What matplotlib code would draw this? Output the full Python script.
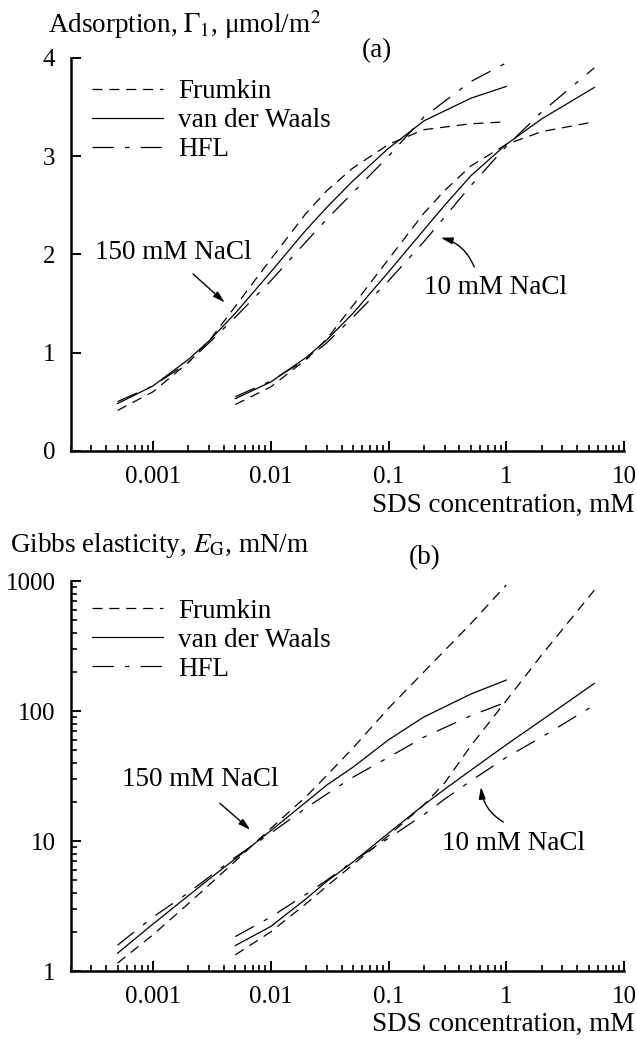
import numpy as np
import matplotlib
matplotlib.use('Agg')
import matplotlib.pyplot as plt
from matplotlib.ticker import LogLocator, NullFormatter, FixedLocator

plt.rcParams['font.family'] = ['Liberation Serif', 'DejaVu Serif']
plt.rcParams['mathtext.fontset'] = 'stix'

# SDS concentration, mM
c150 = [5e-4, 1e-3, 2e-3, 3e-3, 5e-3, 0.01, 0.02, 0.03, 0.05, 0.1, 0.2, 0.5, 1.0]
c10 = [5e-3, 0.01, 0.02, 0.03, 0.05, 0.1, 0.2, 0.3, 0.5, 1.0, 2.0, 5.6]

# (a) adsorption, umol/m2
gam_frum_150 = [0.41, 0.60, 0.90, 1.12, 1.47, 1.95, 2.42, 2.65, 2.88, 3.12, 3.27, 3.33, 3.35]
gam_vdw_150 = [0.48, 0.66, 0.93, 1.12, 1.40, 1.82, 2.25, 2.48, 2.75, 3.08, 3.36, 3.59, 3.71]
gam_hfl_150 = [0.50, 0.66, 0.90, 1.10, 1.36, 1.73, 2.13, 2.36, 2.63, 3.00, 3.40, 3.76, 3.95]
gam_frum_10 = [0.47, 0.65, 0.93, 1.14, 1.48, 1.95, 2.42, 2.65, 2.90, 3.12, 3.25, 3.35]
gam_vdw_10 = [0.53, 0.70, 0.95, 1.13, 1.40, 1.82, 2.25, 2.50, 2.80, 3.12, 3.38, 3.70]
gam_hfl_10 = [0.55, 0.71, 0.93, 1.10, 1.36, 1.73, 2.13, 2.38, 2.70, 3.10, 3.45, 3.90]

# (b) Gibbs elasticity, mN/m
eg_frum_150 = [1.15, 1.9, 3.3, 4.6, 7.0, 12.5, 22, 32, 52, 105, 200, 470, 930]
eg_vdw_150 = [1.37, 2.3, 3.8, 5.1, 7.3, 12, 20, 27, 37, 60, 90, 135, 173]
eg_hfl_150 = [1.58, 2.6, 4.0, 5.3, 7.5, 11.5, 18, 23, 31, 44, 63, 92, 117]
eg_frum_10 = [1.33, 2.0, 3.3, 4.5, 6.6, 11, 19, 28, 54, 120, 270, 850]
eg_vdw_10 = [1.57, 2.2, 3.6, 4.9, 6.9, 11.5, 19, 25, 35, 55, 85, 163]
eg_hfl_10 = [1.84, 2.6, 3.9, 5.0, 7.0, 10.5, 16, 21, 29, 44, 63, 111]

labels = ['Frumkin', 'van der Waals', 'HFL']
styles = [(0, (8, 5.5)), '-', (0, (17, 9, 3.5, 9))]
fs = 19.5
fs_tick = 18
W, H = 637, 1039

fig = plt.figure(figsize=(W / 100, H / 100), dpi=100)

def px_axes(x0, y0, x1, y1):
    return fig.add_axes([x0 / W, 1 - y1 / H, (x1 - x0) / W, (y1 - y0) / H])

ax1 = px_axes(70.7, 58, 624, 450.7)
ax2 = px_axes(70.7, 581, 624, 971)

def style_axis(ax):
    ax.set_xscale('log')
    ax.set_xlim(2e-4, 10)
    ax.xaxis.set_major_locator(FixedLocator([1e-3, 1e-2, 0.1, 1, 10]))
    ax.xaxis.set_minor_locator(LogLocator(base=10, subs=np.arange(2, 10)))
    ax.xaxis.set_minor_formatter(NullFormatter())
    ax.set_xticklabels(['0.001', '0.01', '0.1', '1', '10'])
    for s in ['top', 'right']:
        ax.spines[s].set_visible(False)
    for s in ['left', 'bottom']:
        ax.spines[s].set_linewidth(1.8)
    ax.tick_params(which='major', direction='in', length=7, width=1.4,
                   labelsize=fs_tick, pad=11)
    ax.tick_params(which='minor', direction='in', length=4.5, width=1.2)

def draw_curves(ax, ys150, ys10):
    for y150, y10, ls, lab in zip(ys150, ys10, styles, labels):
        ax.plot(c150, y150, color='black', lw=0.9, linestyle=ls, label=lab)
        ax.plot(c10, y10, color='black', lw=0.9, linestyle=ls)

def add_legend(ax, top_px):
    ax.legend(loc='upper left', bbox_to_anchor=(92 / W, 1 - top_px / H),
              bbox_transform=fig.transFigure, frameon=False, fontsize=fs,
              handlelength=2.63, handletextpad=0.55, labelspacing=0.15,
              borderpad=0, borderaxespad=0)

arrow = dict(arrowstyle='-|>,head_length=0.7,head_width=0.2', color='black',
             lw=1.0, shrinkA=0, shrinkB=0)

# panel (a)
draw_curves(ax1, [gam_frum_150, gam_vdw_150, gam_hfl_150],
            [gam_frum_10, gam_vdw_10, gam_hfl_10])
style_axis(ax1)
add_legend(ax1, 79)
ax1.set_ylim(0, 4)
ax1.set_yticks([0, 1, 2, 3, 4])
ax1.text(3.2e-4, 2.02, '150 mM NaCl', fontsize=fs, ha='left', va='center')
ax1.annotate('', xy=(4.07e-3, 1.51), xytext=(2.19e-3, 1.80), arrowprops=arrow)
ax1.text(0.81, 1.66, '10 mM NaCl', fontsize=fs, ha='center', va='center')
ax1.annotate('', xy=(0.278, 2.17), xytext=(0.535, 1.87),
             arrowprops=dict(arrow, connectionstyle='arc3,rad=0.25'))

# panel (b)
draw_curves(ax2, [eg_frum_150, eg_vdw_150, eg_hfl_150],
            [eg_frum_10, eg_vdw_10, eg_hfl_10])
style_axis(ax2)
add_legend(ax2, 598.5)
ax2.set_yscale('log')
ax2.set_ylim(1, 1000)
ax2.yaxis.set_major_locator(FixedLocator([1, 10, 100, 1000]))
ax2.yaxis.set_minor_locator(LogLocator(base=10, subs=np.arange(2, 10)))
ax2.yaxis.set_minor_formatter(NullFormatter())
ax2.set_yticklabels(['1', '10', '100', '1000'])
ax2.tick_params(which='major', direction='in', length=7, width=1.4,
                labelsize=fs_tick, pad=11)
ax2.tick_params(which='minor', direction='in', length=4.5, width=1.2)
ax2.text(2.5e-3, 29.5, '150 mM NaCl', fontsize=fs, ha='center', va='center')
ax2.annotate('', xy=(6.7e-3, 12.2), xytext=(3.7e-3, 19.5), arrowprops=arrow)
ax2.text(1.15, 9.65, '10 mM NaCl', fontsize=fs, ha='center', va='center')
ax2.annotate('', xy=(0.61, 26.1), xytext=(0.944, 14.0),
             arrowprops=dict(arrow, connectionstyle='arc3,rad=-0.25'))

# titles and axis captions
def ftext(x, y, s, **kw):
    fig.text(x / W, 1 - y / H, s, fontsize=fs, **kw)

ftext(48, 33, r'Adsorption, $\Gamma_1$, μmol/m$^2$', ha='left', va='baseline')
ftext(377, 51, '(a)', ha='center', va='center')
ftext(634, 512, 'SDS concentration, mM', ha='right', va='baseline')
ftext(10, 552, r'Gibbs elasticity, $E_\mathrm{G}$, mN/m', ha='left', va='baseline')
ftext(425, 558, '(b)', ha='center', va='center')
ftext(634, 1031, 'SDS concentration, mM', ha='right', va='baseline')

fig.savefig('out.png', dpi=100)
